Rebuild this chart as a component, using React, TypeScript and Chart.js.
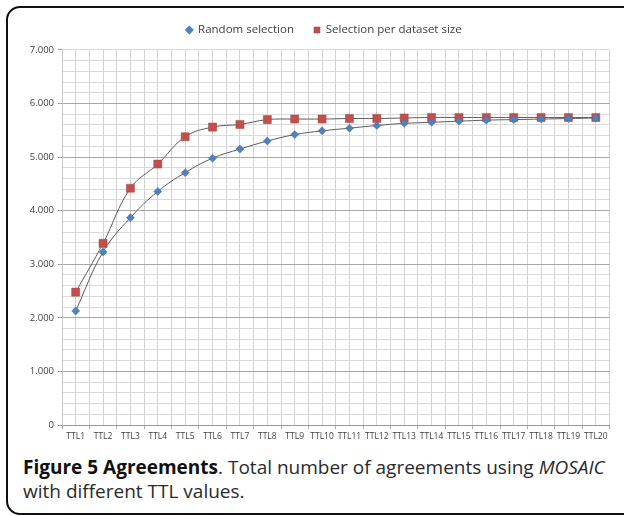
import React, { useEffect, useRef } from 'react';
import { Chart, registerables } from 'chart.js';

Chart.register(...registerables);

const categories = [
  'TTL1', 'TTL2', 'TTL3', 'TTL4', 'TTL5', 'TTL6', 'TTL7', 'TTL8', 'TTL9', 'TTL10',
  'TTL11', 'TTL12', 'TTL13', 'TTL14', 'TTL15', 'TTL16', 'TTL17', 'TTL18', 'TTL19', 'TTL20',
];

const randomSelection = [
  2130, 3230, 3870, 4360, 4710, 4980, 5150, 5300, 5420, 5490,
  5540, 5590, 5630, 5650, 5670, 5690, 5700, 5710, 5720, 5730,
];

const selectionPerDatasetSize = [
  2480, 3390, 4420, 4870, 5380, 5560, 5610, 5700, 5710, 5710,
  5720, 5720, 5730, 5740, 5740, 5740, 5740, 5740, 5740, 5740,
];

const yTickLabels = ['0', '1.000', '2.000', '3.000', '4.000', '5.000', '6.000', '7.000'];

const FONT = '"Open Sans", "DejaVu Sans", sans-serif';

function isInt(v: number) {
  return Math.abs(v - Math.round(v)) < 1e-6;
}

// Shift the legend so it is centred like the original (the legend box spans the y-axis too).
const legendShift = {
  id: 'legendShift',
  afterLayout(chart: any) {
    const lg = chart.legend;
    if (lg) {
      lg.left += 9.25;
      lg.right += 9.25;
    }
  },
};

export default function App() {
  const canvasRef = useRef<HTMLCanvasElement | null>(null);

  useEffect(() => {
    const canvas = canvasRef.current;
    if (!canvas) return;
    const chart = new Chart(canvas, {
      type: 'scatter',
      data: {
        datasets: [
          {
            label: 'Random selection',
            data: randomSelection.map((y, i) => ({ x: i + 1, y })),
            showLine: true,
            borderColor: '#5c5c5c',
            borderWidth: 1,
            tension: 0.4,
            pointStyle: 'rectRot',
            pointRadius: 4,
            pointHoverRadius: 4,
            pointBackgroundColor: '#4F81BD',
            pointBorderColor: '#3F6FAE',
            pointBorderWidth: 0.5,
            backgroundColor: '#4F81BD',
          },
          {
            label: 'Selection per dataset size',
            data: selectionPerDatasetSize.map((y, i) => ({ x: i + 1, y })),
            showLine: true,
            borderColor: '#5c5c5c',
            borderWidth: 1,
            tension: 0.4,
            pointStyle: 'rect',
            pointRadius: 5.7,
            pointHoverRadius: 5.7,
            pointBackgroundColor: '#C0504D',
            pointBorderColor: '#A8423F',
            pointBorderWidth: 0.5,
            backgroundColor: '#C0504D',
          },
        ],
      },
      options: {
        animation: false,
        responsive: false,
        events: [],
        layout: { padding: { left: 20, right: 14.5, top: 4.25, bottom: 0 } },
        plugins: {
          tooltip: { enabled: false },
          legend: {
            position: 'top',
            weight: 3000,
            labels: {
              usePointStyle: true,
              boxWidth: 6,
              boxHeight: 6,
              padding: 20,
              color: '#404040',
              font: { family: FONT, size: 11.5 },
            },
          } as any,
          title: {
            display: true,
            text: '',
            padding: { top: 0, bottom: 3 },
            font: { size: 1 },
          },
        },
        scales: {
          x: {
            type: 'linear',
            min: 0.5,
            max: categories.length + 0.5,
            afterBuildTicks: (scale: any) => {
              const t: { value: number }[] = [];
              for (let i = 0; i < categories.length; i++) {
                t.push({ value: i + 0.5 });
                t.push({ value: i + 1 });
              }
              t.push({ value: categories.length + 0.5 });
              scale.ticks = t;
            },
            afterFit: (scale: any) => {
              scale.height = 25;
            },
            ticks: {
              autoSkip: false,
              maxRotation: 0,
              minRotation: 0,
              padding: 2,
              color: '#404040',
              font: { family: FONT, size: 8.5 },
              callback: (v: any) => (isInt(Number(v)) ? categories[Math.round(Number(v)) - 1] : ''),
            },
            grid: {
              color: '#d2d2d2',
              lineWidth: 1,
              tickLength: 4,
              tickColor: (ctx: any) => (isInt(ctx.tick.value) ? 'rgba(0,0,0,0)' : '#b0b0b0'),
            },
            border: { color: '#9a9a9a' },
          },
          y: {
            type: 'linear',
            min: 0,
            max: 7000,
            afterFit: (scale: any) => {
              scale.width = 42;
            },
            ticks: {
              stepSize: 200,
              autoSkip: false,
              padding: 4,
              color: '#404040',
              font: { family: FONT, size: 9.5 },
              callback: (v: any) => {
                const n = Number(v);
                return n % 1000 === 0 ? yTickLabels[n / 1000] : '';
              },
            },
            grid: {
              lineWidth: 1,
              tickLength: 4,
              color: (ctx: any) => {
                const n = ctx.tick.value;
                return n % 1000 === 0 && n !== 7000 && n !== 0 ? '#a8a8a8' : '#dadada';
              },
              tickColor: (ctx: any) => (ctx.tick.value % 1000 === 0 ? '#a0a0a0' : 'rgba(0,0,0,0)'),
            },
            border: { color: '#c8c8c8' },
          },
        },
      } as any,
      plugins: [legendShift],
    });
    return () => chart.destroy();
  }, []);

  return (
    <div
      style={{
        position: 'absolute',
        left: 0,
        top: 0,
        width: 624,
        height: 516,
        overflow: 'hidden',
        background: '#fff',
      }}
    >
      <div
        style={{
          position: 'absolute',
          left: 6,
          top: 6,
          width: 650,
          height: 509,
          border: '2px solid #111',
          borderRadius: 14,
          boxSizing: 'border-box',
        }}
      />
      <canvas
        ref={canvasRef}
        width={624}
        height={450}
        style={{ position: 'absolute', left: 0, top: 0, width: 624, height: 450 }}
      />
      <div
        style={{
          position: 'absolute',
          left: 23,
          top: 456,
          fontFamily: FONT,
          fontSize: 19,
          lineHeight: '23.5px',
          color: '#2a2a2a',
          whiteSpace: 'nowrap',
        }}
      >
        <span style={{ fontWeight: 700, color: '#111' }}>Figure 5 Agreements</span>. Total number of agreements using{' '}
        <span style={{ fontStyle: 'italic' }}>MOSAIC</span>
        <br />
        with different TTL values.
      </div>
    </div>
  );
}
